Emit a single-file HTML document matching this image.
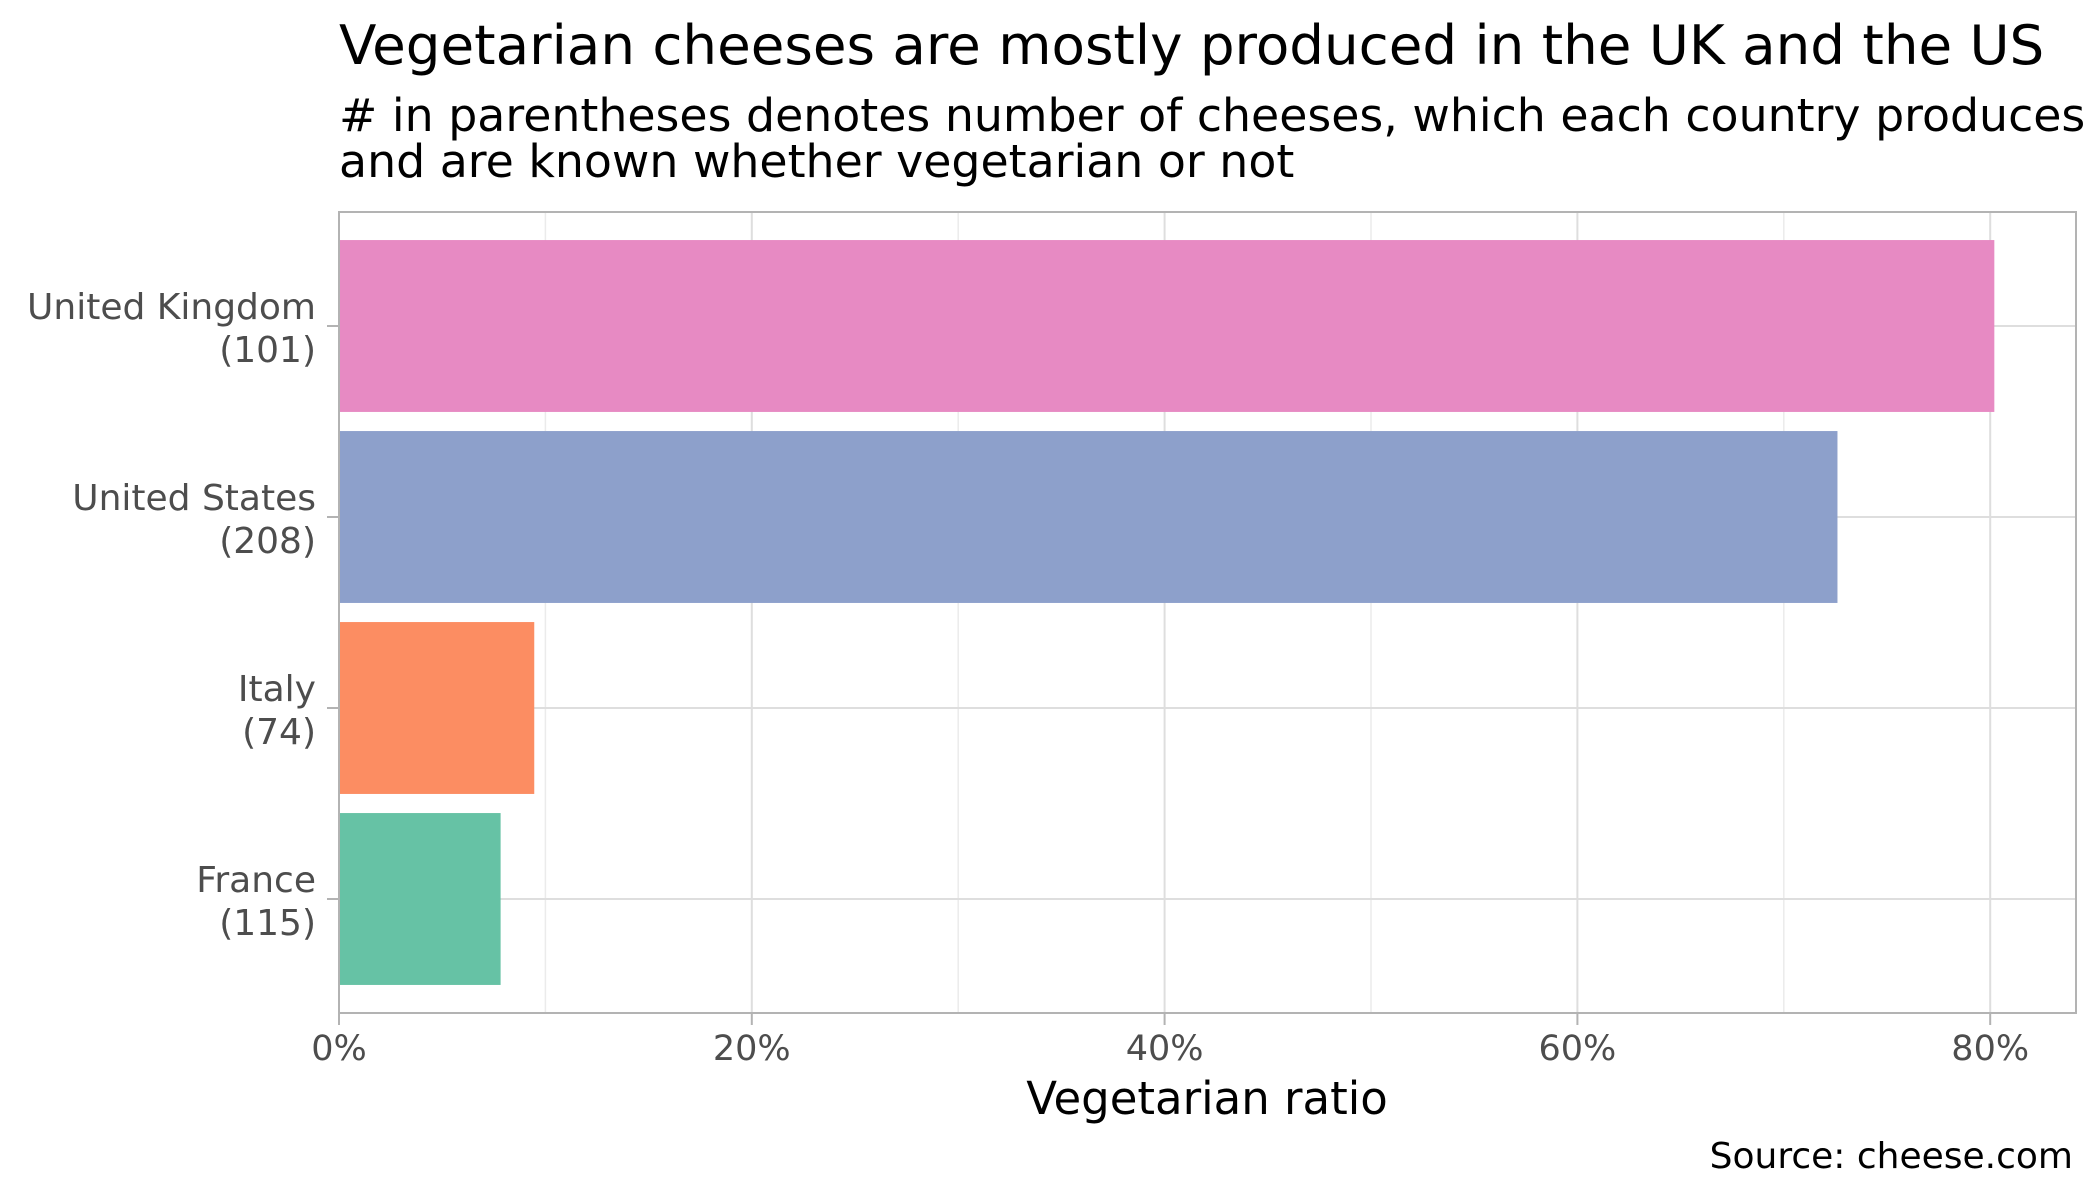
<!DOCTYPE html>
<html><head><meta charset="utf-8"><style>
html,body{margin:0;padding:0;background:#fff}
svg{display:block;font-family:"DejaVu Sans","Liberation Sans",sans-serif}
</style></head><body>
<svg id="chart" width="2100" height="1200" viewBox="0 0 2100 1200" xmlns="http://www.w3.org/2000/svg">
<text x="339" y="64" font-size="54.7" fill="#000">Vegetarian cheeses are mostly produced in the UK and the US</text>
<text x="339" y="131" font-size="45.8" fill="#000">
<tspan x="339" y="131"># in parentheses denotes number of cheeses, which each country produces</tspan>
<tspan x="339" y="177">and are known whether vegetarian or not</tspan></text>
<g id="grid"></g>
<g id="bars"></g>
<rect x="339" y="212" width="1737" height="801" fill="none" stroke="#b3b3b3" stroke-width="2"/>
<g id="axes"></g>
<text x="1207" y="1114" font-size="45" text-anchor="middle" fill="#000">Vegetarian ratio</text>
<text x="2073" y="1168" font-size="36" text-anchor="end" fill="#000">Source: cheese.com</text>
</svg>
<script>
const categories = ["United Kingdom", "United States", "Italy", "France"];
const counts = [101, 208, 74, 115];
const ratios = [0.802, 0.726, 0.0946, 0.0783];
const colors = ["#E78AC3", "#8DA0CB", "#FC8D62", "#66C2A5"];
const xTicks = [0, 0.2, 0.4, 0.6, 0.8];
const xTickLabels = ["0%", "20%", "40%", "60%", "80%"];
const xMinor = [0.1, 0.3, 0.5, 0.7];

const NS = "http://www.w3.org/2000/svg";
const L = 339, R = 2076, T = 212, B = 1013;
const x = v => L + v * 2064;
const step = 191, firstY = 326;
const y = i => firstY + i * step;
function mk(tag, attrs, parent) {
  const e = document.createElementNS(NS, tag);
  for (const k in attrs) e.setAttribute(k, attrs[k]);
  parent.appendChild(e); return e;
}
const grid = document.getElementById("grid");
const bars = document.getElementById("bars");
const axes = document.getElementById("axes");
xMinor.forEach(v => {
  const l = mk("line", {x1: x(v), x2: x(v), y1: T, y2: B, stroke: "#ebebeb", "stroke-width": 1.5}, grid);
  
  
});
xTicks.forEach((v, i) => {
  const l = mk("line", {x1: x(v), x2: x(v), y1: T, y2: B, stroke: "#dedede", "stroke-width": 2}, grid);
  
  
  const t = mk("line", {x1: x(v), x2: x(v), y1: B, y2: B + 12, stroke: "#b3b3b3", "stroke-width": 2}, axes);
  
  
  const lb = mk("text", {x: x(v), y: 1060, "font-size": 35, fill: "#4d4d4d", "text-anchor": "middle"}, axes);
  lb.textContent = xTickLabels[i];
  
  
});
categories.forEach((c, i) => {
  const g = mk("line", {x1: L, x2: R, y1: y(i), y2: y(i), stroke: "#dedede", "stroke-width": 2}, grid);
  
  
  const bh = step * 0.9;
  const r = mk("rect", {x: L, y: y(i) - bh / 2, width: x(ratios[i]) - L, height: bh, fill: colors[i]}, bars);
  
  
  const t = mk("line", {x1: L - 12, x2: L, y1: y(i), y2: y(i), stroke: "#b3b3b3", "stroke-width": 2}, axes);
  
  
  const lb = mk("text", {x: 316, y: y(i) - 7, "font-size": 36, fill: "#4d4d4d", "text-anchor": "end"}, axes);
  
  
  const s1 = mk("tspan", {x: 316, y: y(i) - 7}, lb); s1.textContent = c;
  const s2 = mk("tspan", {x: 316, y: y(i) + 36}, lb); s2.textContent = "(" + counts[i] + ")";
});
</script>
</body></html>
